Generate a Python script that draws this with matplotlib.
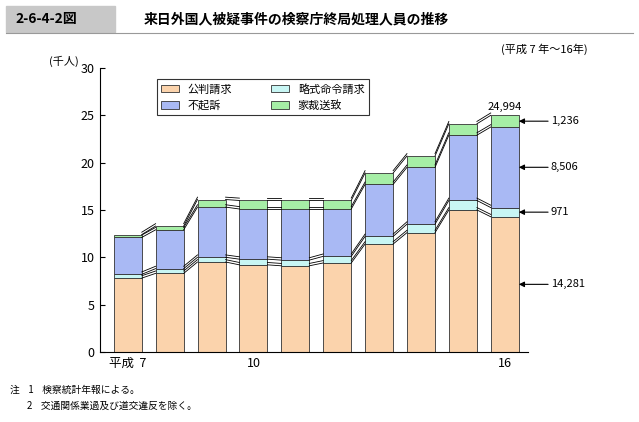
import matplotlib
matplotlib.use("Agg")
import matplotlib.pyplot as plt
from matplotlib.patches import Rectangle
import numpy as np

plt.rcParams['font.family'] = ['Noto Sans CJK JP']

years = ["平成  7", "", "", "10", "", "", "", "", "", "16"]
kohan = [7.8, 8.3, 9.5, 9.2, 9.1, 9.4, 11.4, 12.6, 15.0, 14.281]
ryaku = [0.4, 0.5, 0.5, 0.6, 0.6, 0.7, 0.8, 0.9, 1.0, 0.971]
fuki = [3.9, 4.1, 5.3, 5.3, 5.4, 5.0, 5.5, 6.0, 6.9, 8.506]
kasai = [0.3, 0.4, 0.8, 0.9, 0.9, 0.9, 1.2, 1.2, 1.2, 1.236]
names = ["公判請求", "略式命令請求", "不起訴", "家裁送致"]
colors = ["#fbd3ac", "#c8f6f4", "#a9b9f4", "#a6eea6"]
last_labels = ["14,281", "971", "8,506", "1,236"]
total_label = "24,994"

fig = plt.figure(figsize=(6.39, 4.22), dpi=100)
ax = fig.add_axes([0.156, 0.166, 0.670, 0.673])
x = np.arange(len(kohan))
w = 0.67
series = [kohan, ryaku, fuki, kasai]
bottom = np.zeros(len(x))
bounds = []
conts = []
for s, c, n in zip(series, colors, names):
    conts.append(ax.bar(x, s, w, bottom=bottom, color=c, edgecolor="#333333", linewidth=0.6, label=n))
    bottom = bottom + np.array(s)
    bounds.append(bottom.copy())
for b in bounds:
    for i in range(len(x) - 1):
        ax.plot([x[i] + w/2, x[i+1] - w/2], [b[i], b[i+1]], color="black", lw=0.6)
        ax.plot([x[i] + w/2, x[i+1] - w/2], [b[i]+0.25, b[i+1]+0.25], color="black", lw=0.6)

ax.set_xlim(-0.67, 9.55)
ax.set_ylim(0, 30)
ax.set_yticks(range(0, 31, 5))
ax.set_xticks(x)
ax.set_xticklabels(years, fontsize=9)
ax.tick_params(axis='y', labelsize=9, direction='in')
ax.tick_params(axis='x', length=0)
for sp in ["top", "right"]:
    ax.spines[sp].set_visible(False)
ax.text(-0.05, 1.01, "(千人)", transform=ax.transAxes, fontsize=8, ha="right")

bot = 0
for s, lab in zip(series, last_labels):
    mid = bot + s[-1] / 2
    bot += s[-1]
    ax.annotate(lab, xy=(9 + w/2, mid), xytext=(10.1, mid), annotation_clip=False,
                fontsize=8, va="center", ha="left",
                arrowprops=dict(arrowstyle="-|>", color="black", lw=0.8, shrinkA=0, shrinkB=0))
ax.text(9, bottom[-1] + 0.4, total_label, ha="center", va="bottom", fontsize=8)

order = [0, 2, 1, 3]
leg = ax.legend(handles=[conts[i] for i in order], labels=[names[i] for i in order], ncol=2,
                loc="upper left", bbox_to_anchor=(0.12, 0.98), fontsize=8, frameon=True,
                fancybox=False, edgecolor="black", handlelength=1.6, columnspacing=3.5)
leg.get_frame().set_linewidth(0.8)

fig.patches.append(Rectangle((0.01, 0.925), 0.17, 0.06, transform=fig.transFigure, color="#c8c8c8"))
fig.text(0.025, 0.955, "2-6-4-2図", fontsize=10, fontweight="bold", va="center")
fig.text(0.225, 0.955, "来日外国人被疑事件の検察庁終局処理人員の推移", fontsize=10, fontweight="bold", va="center")
fig.lines.append(plt.Line2D([0.01, 0.99], [0.922, 0.922], transform=fig.transFigure, color="#999999", lw=0.8))
fig.text(0.92, 0.875, "(平成 7 年～16年)", fontsize=8, ha="right")
fig.text(0.015, 0.068, "注    1    検察統計年報による。", fontsize=7)
fig.text(0.015, 0.03, "        2    交通関係業過及び道交違反を除く。", fontsize=7)

fig.savefig("out.png", dpi=100)
